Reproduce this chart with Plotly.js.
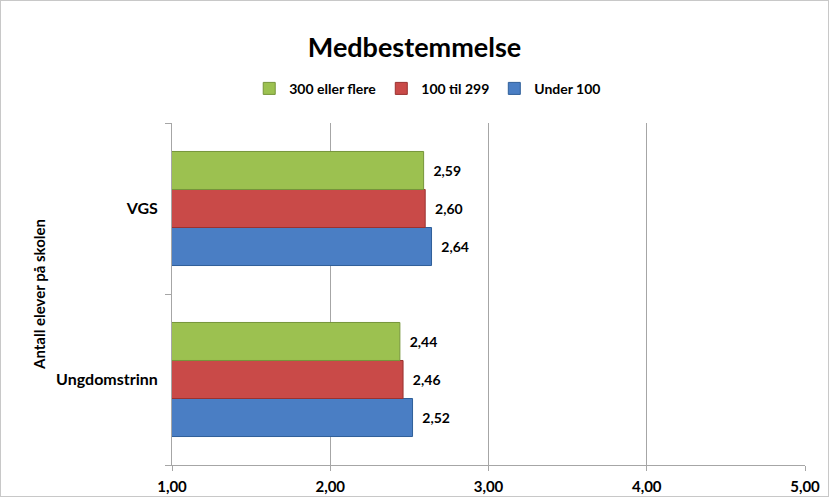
<!DOCTYPE html>
<html>
<head>
<meta charset="utf-8">
<script src="https://cdn.plot.ly/plotly-3.0.1.min.js"></script>
<style>
html,body{margin:0;padding:0;background:#fff;}
#chart{width:829px;height:497px;}
#frame{position:absolute;left:0;top:0;width:827px;height:495px;border:1px solid #c8c8c8;pointer-events:none;}
</style>
</head>
<body>
<div id="chart"></div>
<div id="frame"></div>
<script>
const categories = ['Ungdomstrinn', 'VGS'];
const seriesNames = ['Under 100', '100 til 299', '300 eller flere'];
const under100 = [2.52, 2.64];
const til299 = [2.46, 2.60];
const over300 = [2.44, 2.59];
const xTicks = [1, 2, 3, 4, 5];

const colors = ['#4A7EC4', '#C94A48', '#9CC150'];
const lines = ['#2F5F99', '#9A3230', '#76953A'];
const values = [under100, til299, over300];
const font = 'Lato, "Open Sans", sans-serif';

const traces = values.map((v, i) => ({
  type: 'bar',
  orientation: 'h',
  name: seriesNames[i],
  y: categories,
  x: v,
  base: 0,
  marker: {color: colors[i], line: {color: lines[i], width: 1}},
  texttemplate: '  %{x:.2f}',
  textposition: 'outside',
  cliponaxis: false,
  textfont: {family: font, size: 14, color: '#000', weight: 700},
  hoverinfo: 'skip'
}));

const layout = {
  width: 829,
  height: 497,
  separators: ', ',
  paper_bgcolor: '#fff',
  plot_bgcolor: '#fff',
  margin: {l: 172, r: 24, t: 123, b: 32},
  barmode: 'group',
  bargap: 0.333,
  bargroupgap: 0,
  showlegend: true,
  title: {text: '<b>Medbestemmelse</b>', x: 0.5, xanchor: 'center', y: 0.905, yanchor: 'middle',
          font: {family: font, size: 27, color: '#000'}},
  legend: {orientation: 'h', traceorder: 'reversed', x: 0.404, xanchor: 'center', y: 1.1, yanchor: 'middle',
           font: {family: font, size: 14, color: '#000', weight: 700}, itemwidth: 30},
  xaxis: {
    range: [1, 5], tickvals: xTicks, tickformat: '.2f',
    showgrid: true, gridcolor: '#a6a6a6', gridwidth: 1,
    showline: true, linecolor: '#a6a6a6', ticks: 'outside', ticklen: 5, tickcolor: '#a6a6a6',
    ticklabelstandoff: 3,
    zeroline: false, fixedrange: true,
    tickfont: {family: font, size: 15, color: '#000', weight: 700}
  },
  yaxis: {
    type: 'category', categoryorder: 'array', categoryarray: categories,
    showgrid: false, showline: true, linecolor: '#a6a6a6',
    ticks: 'outside', tickson: 'boundaries', ticklen: 6, tickcolor: '#a6a6a6',
    ticklabelstandoff: 10,
    tickfont: {family: font, size: 16, color: '#000', weight: 700},
    title: {text: '<b>Antall elever på skolen</b>', standoff: 6, font: {family: font, size: 15, color: '#000'}},
    fixedrange: true
  }
};

Plotly.newPlot('chart', traces, layout, {displayModeBar: false, staticPlot: true});
</script>
</body>
</html>
